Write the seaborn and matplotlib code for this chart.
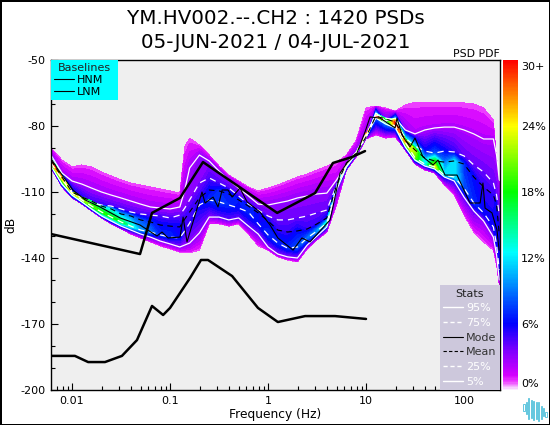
import numpy as np
import matplotlib
matplotlib.use("Agg")
import matplotlib.pyplot as plt
import seaborn as sns
from matplotlib.colors import LinearSegmentedColormap, Normalize
from matplotlib.lines import Line2D
from matplotlib.cm import ScalarMappable
from matplotlib.patches import Rectangle
from matplotlib.ticker import LogLocator, NullFormatter

freq = [0.0061,0.0079,0.01,0.0126,0.0158,0.02,0.0251,0.0316,0.0398,0.0501,0.0631,0.0794,0.1,0.1259,0.1413,0.1585,0.1995,0.2512,0.3162,0.3981,0.5012,0.631,0.7943,1.0,1.259,1.585,1.995,2.512,3.162,3.981,5.012,6.31,7.943,10,12.59,15.85,19.95,25.12,31.62,39.81,50.12,63.1,79.43,100,125.9,158.5,199.5,215,229]

upper_edge = [-90,-95.5,-98.6,-97.7,-98.6,-100.9,-102.7,-104.5,-105.9,-106.8,-107.7,-108.6,-109.5,-110.5,-89.5,-85.5,-88.6,-93.2,-98.2,-102.3,-105,-107.7,-109.5,-108.2,-106.8,-105,-103.2,-101.8,-100,-98.2,-96.4,-93.2,-86.4,-71.8,-70.9,-71.8,-73.2,-70.5,-69.1,-69.1,-69.1,-69.1,-69.1,-69.5,-70,-71.8,-77.3,-95.5,-120.5]
p95 = [-93.2,-101.4,-105,-106.4,-108.2,-110,-111.4,-112.7,-114.1,-115.5,-116.8,-117.3,-117.7,-116.8,-109.1,-99.1,-93.2,-95.9,-100.5,-104.5,-108.2,-111.8,-115.5,-115.9,-115,-114.1,-112.7,-111.8,-110.9,-110.5,-104.5,-97.3,-91.8,-85,-74.1,-77.7,-76.4,-81.8,-83.6,-81.8,-80.9,-80.5,-80.5,-81.8,-83.6,-85.9,-85.9,-93.2,-104.5]
p75 = [-94.5,-102.3,-110,-112.7,-115,-115.9,-116.4,-117.7,-119.1,-120,-120.5,-120.9,-121.8,-120.5,-117.3,-113.6,-105.9,-103.6,-105.9,-108.2,-111.8,-115.5,-118.2,-120.9,-122.7,-122.7,-121.8,-120.9,-119.5,-118.2,-106.8,-97.7,-92.3,-85,-75,-76.4,-77.3,-85.5,-89.1,-91.4,-92.3,-91.4,-91.8,-93.6,-97.7,-100.9,-105.9,-111.4,-120.5]
mean = [-95.5,-103.2,-110,-112.3,-114.1,-116.4,-117.7,-120,-120.9,-122.7,-123.6,-125,-125.5,-125.9,-122.3,-119.1,-112.7,-109.1,-109.5,-110.9,-113.6,-116.4,-119.5,-123.2,-127.3,-128.2,-127.7,-126.8,-124.5,-121.8,-106.8,-96.8,-92.3,-85,-75.5,-76.8,-78.2,-86.4,-90.9,-94.5,-95.9,-96.4,-95.9,-97.3,-103.2,-107.7,-111.4,-115.9,-129.5]
p25 = [-96.8,-104.1,-110.5,-113.6,-116.4,-119.1,-121.4,-123.6,-125.5,-127.3,-128.2,-129.5,-130.5,-130.9,-127.7,-124.1,-115.9,-113.6,-114.5,-115.9,-117.3,-119.1,-124.5,-129.5,-133.2,-135.5,-135,-130.9,-127.7,-124.1,-107.7,-97.7,-91.8,-83.6,-75.9,-78.2,-80,-87.3,-94.5,-97.3,-98.6,-102.3,-103.2,-108.2,-115,-119.5,-125.9,-134.1,-145.4]
p5 = [-98.2,-106.4,-111.4,-114.5,-117.7,-120.9,-123.2,-125.5,-127.3,-129.1,-130.5,-132.3,-133.6,-135,-134.1,-133.2,-128.6,-121.4,-121.4,-122.7,-121.8,-125.5,-129.1,-135,-138.2,-139.5,-140,-134.1,-130,-125.9,-109.1,-98.6,-92.7,-84.5,-76.4,-79.1,-80.9,-89.5,-95.5,-98.2,-99.5,-103.2,-105,-112.3,-118.6,-123.2,-130.5,-138.6,-150]
lower_edge = [-99.1,-107.7,-112.7,-115.5,-118.6,-121.8,-124.5,-126.8,-129.1,-130.9,-132.7,-134.5,-135.9,-137.3,-137.7,-137.7,-136.4,-124.5,-124.5,-125.5,-124.5,-129.1,-134.5,-136.4,-139.5,-140.9,-141.8,-135.9,-131.8,-128.2,-115.9,-100,-94.1,-85.9,-84.1,-85.5,-85,-90.9,-97.3,-100,-101.4,-106.8,-111.4,-120.5,-128.2,-132.7,-136.4,-143.2,-152.3]

edge_pct = [0.7]*49
pct_p95 = [3,2.5,2.5,2.5,2.5,2.5,2.5,2.5,2.5,2.5,2.5,2.5,2.5,2.5,2.5,2.5,3,3,3,3,3,3,3,3,3,3,3,3,3,3,2,3,3,3,10,4,10,3,2.2,2.2,2.2,2.2,2.2,2.2,2.2,2.2,2.2,2.2,2.2]
pct_p75 = [12,10,7,5.5,5,5,4.5,4.5,4.5,4.5,4.5,4.5,4.5,4,3.5,3.5,3.5,4.5,4.5,4.5,4.5,4.5,4.5,4,4,4,4,4,4,4,5,10,8,10,24,8,24,12,12,6,8,6,5,4,4,4,4,4,4]
pct_mean = [30,26,22,18,14,12,12,10,9,8,7,6,6,6,5,5,5,6,7,7,6.5,7,6,6,5,5,6,5,5,6,8,20,14,20,30,16,30,24,22,10,18,9,12,7,6,5,5,6,6]
pct_p25 = [25,24,24,22,20,19,18,17,14,10,9,7,7,6,5,5,6,7,7.5,7,6,7,6,7,7,7,8,9,10,14,10,26,18,26,28,14,28,26,20,12,24,12,12,8,7,6,6,6,6]
pct_p5 = [8,10,10,9,9,8,8,7,6,5,4,3,3,3,3,3,3,3,4,4,4,4,3.5,3,3,3,3,4,5,6,4,10,5,8,8,9,8,8,8,6,8,6,5,4,4,3,3,3,3]

mode_freq = [0.00625,0.00703,0.0102,0.0136,0.0193,0.0309,0.0494,0.0736,0.0828,0.0955,0.1265,0.136,0.149,0.212,0.228,0.275,0.309,0.34,0.391,0.43,0.518,0.611,0.828,1.05,1.26,1.8,2.22,2.68,4.3,4.83,5.43,6.4,8.09,9.77,11,13.9,19.8,20.7,23.3,28.1,31.6,38.2,48.3,54.3,64,84.9,115,146,156,164,193,217,228]
mode_db = [-95.5,-99.1,-109.1,-113.6,-116.8,-121.8,-125,-130,-128.2,-130.9,-130.5,-121.4,-132.7,-110,-115,-112.3,-116.8,-109.1,-109.1,-112.3,-108.2,-114.5,-119.1,-125,-130.9,-136.4,-130.9,-132.7,-122.7,-112.3,-101.4,-96.8,-92.3,-82.7,-75.9,-76.4,-80.9,-76.4,-84.1,-89.5,-85.5,-94.1,-97.7,-95.5,-102.3,-102.3,-115,-115,-105.9,-117.3,-119.5,-127.3,-136.4]

hnm_freq = [0.0061,0.0494,0.0655,0.1265,0.217,1.24,3.02,4.6,7.2,9.77]
hnm_db = [-129.1,-138.2,-119.5,-112.7,-96.4,-119.5,-110.5,-96.8,-94.1,-91.4]
lnm_freq = [0.0061,0.0107,0.0146,0.0217,0.0323,0.046,0.0655,0.085,0.1,0.16,0.207,0.244,0.43,0.79,1.26,2.39,4.83,10]
lnm_db = [-184.5,-184.5,-187.3,-187.3,-184.5,-177.3,-161.8,-165.9,-162.7,-149.1,-140.9,-140.9,-148.2,-162.7,-169.1,-166.4,-166.4,-167.7]

title_lines = ["YM.HV002.--.CH2 : 1420 PSDs", "05-JUN-2021 / 04-JUL-2021"]
yticks = [-50,-80,-110,-140,-170,-200]
ylabels = ["-50","-80","-110","-140","-170","-200"]
cbar_values = [0.6,6,12,18,24,29.5]
cbar_labels = ["0%","6%","12%","18%","24%","30+"]
icon_heights = [7,12,21,18,19,17,19,13,8,5]
icon_centers = [2,1,1,0,-1,-1,-2,-3,-3,-5]

sns.set_theme(style="ticks")
plt.rcParams["font.family"] = ["DejaVu Sans"]
plt.rcParams["text.color"] = "black"
plt.rcParams["axes.labelcolor"] = "black"
fig = plt.figure(figsize=(5.5,4.25), dpi=100, facecolor="white")
W, H = 550, 425
ax = fig.add_axes([51/W, 1-390/H, 449/W, 330/H], facecolor="#efefef")

stops = [(0,(0.98,0.93,1)),(0.7/30,(0.93,0.25,1)),(1.3/30,(0.83,0,1)),(3.5/30,(0.5,0,1)),(6/30,(0,0,1)),(12.5/30,(0,1,1)),(18/30,(0,1,0)),(24/30,(1,1,0)),(1,(1,0,0))]
cmap = LinearSegmentedColormap.from_list("pqlx", stops, N=256)

F = np.tile(np.array(freq),(7,1))
DB = np.array([lower_edge,p5,p25,mean,p75,p95,upper_edge])
Z = np.array([edge_pct,pct_p5,pct_p25,pct_mean,pct_p75,pct_p95,edge_pct])
ax.contourf(F, DB, Z, levels=np.linspace(0,30,61), cmap=cmap, vmin=0, vmax=30, extend="max", antialiased=False)

ax.set_xscale("log")
sol = dict(color="white", lw=0.9, ax=ax, legend=False, estimator=None, sort=False)
sns.lineplot(x=freq,y=p95,**sol)
sns.lineplot(x=freq,y=p5,**sol)
sns.lineplot(x=freq,y=p75,linestyle=(0,(5,4)),**sol)
sns.lineplot(x=freq,y=p25,linestyle=(0,(5,4)),**sol)
blk = dict(color="black", ax=ax, legend=False, estimator=None, sort=False)
sns.lineplot(x=mode_freq,y=mode_db,lw=0.8,**blk)
sns.lineplot(x=freq,y=mean,lw=0.8,linestyle=(0,(5,4)),**blk)
sns.lineplot(x=hnm_freq,y=hnm_db,lw=1.8,**blk)
sns.lineplot(x=lnm_freq,y=lnm_db,lw=1.8,**blk)

ax.set_xlim(0.0061,233)
ax.set_ylim(-200,-50)
ax.set_yticks(yticks)
ax.set_yticklabels(ylabels)
ax.set_yticks(np.arange(-200,-49,10),minor=True)
ax.set_xticks([0.01,0.1,1,10,100])
ax.set_xticklabels(["0.01","0.1","1","10","100"])
ax.xaxis.set_minor_locator(LogLocator(base=10,subs=np.arange(2,10),numticks=12))
ax.xaxis.set_minor_formatter(NullFormatter())
ax.tick_params(axis="both",which="major",direction="in",length=5,width=0.8,labelsize=8,colors="black",pad=4)
ax.tick_params(axis="both",which="minor",direction="in",length=3,width=0.8,colors="black",bottom=True)
ax.set_xlabel("Frequency (Hz)",fontsize=8.8,labelpad=2)
ax.set_ylabel("dB",fontsize=8.8)
ax.yaxis.set_label_coords(-34/449,0.5)
for s in ax.spines.values():
    s.set_linewidth(1); s.set_color("black")

base = [Line2D([],[],color="black",lw=0.8,label="HNM"),Line2D([],[],color="black",lw=0.8,label="LNM")]
leg1 = ax.legend(handles=base,title="Baselines",loc="upper left",bbox_to_anchor=(0,0,67/449,1),mode="expand",
                 borderaxespad=0,fontsize=8,title_fontsize=8,
                 facecolor="#00ffff",framealpha=1,edgecolor="none",fancybox=False,handlelength=1.8,
                 labelspacing=0.2,handletextpad=0.3,borderpad=0.25)
ax.add_artist(leg1)
stat_h = [Line2D([],[],color="white",lw=1,label="95%"),Line2D([],[],color="white",lw=1,ls=(0,(3,2)),label="75%"),
          Line2D([],[],color="black",lw=0.8,label="Mode"),Line2D([],[],color="black",lw=0.8,ls=(0,(3,2)),label="Mean"),
          Line2D([],[],color="white",lw=1,ls=(0,(3,2)),label="25%"),Line2D([],[],color="white",lw=1,label="5%")]
leg2 = ax.legend(handles=stat_h,title="Stats",loc="lower right",borderaxespad=0,fontsize=8,title_fontsize=8,
                 facecolor="#cdc8dc",framealpha=1,edgecolor="none",fancybox=False,handlelength=1.8,
                 labelspacing=0.42,handletextpad=0.3,borderpad=0.3)
for t,c in zip(leg2.get_texts(),["white","white","#333333","#333333","white","white"]):
    t.set_color(c)
leg1.get_title().set_color("#222222"); leg2.get_title().set_color("#222222")

fig.text(275.5/W,1-18/H,title_lines[0],ha="center",va="center",fontsize=14.3)
fig.text(275.5/W,1-42/H,title_lines[1],ha="center",va="center",fontsize=14.3)
fig.text(500/W,1-54/H,"PSD PDF",ha="right",va="center",fontsize=7.8)

cax = fig.add_axes([503/W,1-390/H,15/W,330/H])
cb = fig.colorbar(ScalarMappable(Normalize(0,30),cmap),cax=cax)
cb.outline.set_visible(False)
cb.set_ticks(cbar_values)
cb.set_ticklabels(cbar_labels)
cb.minorticks_off()
cax.tick_params(length=0,labelsize=8,pad=2,colors="black")

iax = fig.add_axes([522/W,1-423/H,26/W,27/H])
iax.axis("off")
iax.bar(range(len(icon_heights)),icon_heights,bottom=[c-h/2 for c,h in zip(icon_centers,icon_heights)],width=0.55,
        facecolor="#ffffff",edgecolor="#63c7de",linewidth=0.7)
iax.set_ylim(-14,13)

for x0,y0,w,h in [(0,0,2,425),(0,423,550,2),(549,0,1,425),(0,0,550,1)]:
    fig.add_artist(Rectangle((x0/W,y0/H),w/W,h/H,transform=fig.transFigure,facecolor="black",edgecolor="none"))

fig.savefig("out.png",dpi=100)
